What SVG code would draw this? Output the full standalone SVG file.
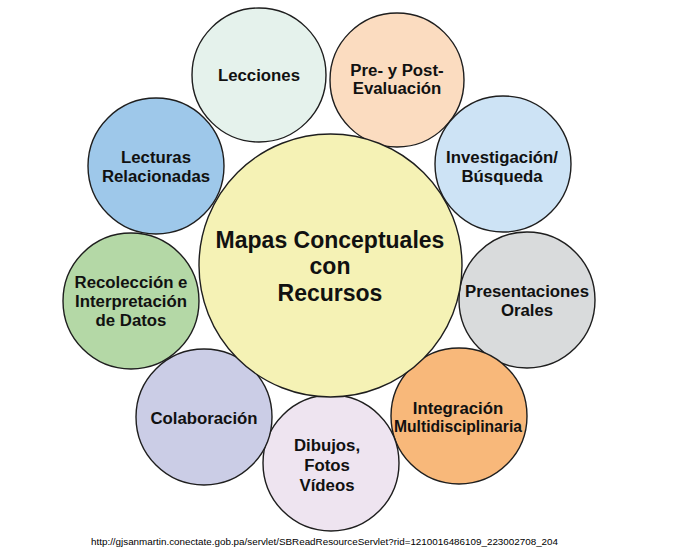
<svg xmlns="http://www.w3.org/2000/svg" width="676" height="554" viewBox="0 0 676 554">
<style>
circle{stroke:#1e1e1e;stroke-width:1.4}
text{font-family:"Liberation Sans",Arial,sans-serif;font-weight:bold;font-size:16.8px;fill:#111;text-anchor:middle}
.big{font-size:23px}
.url{font-weight:normal;font-size:9.5px;text-anchor:start;fill:#000}
</style>
<rect width="676" height="554" fill="#fff"/>
<g id="lecciones"><circle cx="259" cy="75" r="67" fill="#e5f2ec"/><text x="259" y="81">Lecciones</text></g>
<g id="evaluacion"><circle cx="397" cy="80" r="67" fill="#fbdcc0"/><text x="397" y="76">Pre- y Post-</text><text x="397" y="94">Evaluación</text></g>
<g id="investigacion"><circle cx="503" cy="164" r="68" fill="#cde3f5"/><text x="502" y="163">Investigación/</text><text x="502" y="182">Búsqueda</text></g>
<g id="presentaciones"><circle cx="527" cy="300" r="68" fill="#d9dbdc"/><text x="527" y="297">Presentaciones</text><text x="527" y="316">Orales</text></g>
<g id="integracion"><circle cx="459" cy="416" r="68" fill="#f8b87a"/><text x="458" y="414">Integración</text><text x="458" y="432" textLength="128" lengthAdjust="spacingAndGlyphs">Multidisciplinaria</text></g>
<g id="dibujos"><circle cx="331" cy="463" r="68" fill="#eee4f0"/><text x="327" y="451">Dibujos,</text><text x="327" y="471">Fotos</text><text x="327" y="491">Vídeos</text></g>
<g id="colaboracion"><circle cx="204" cy="417" r="68" fill="#cbcde6"/><text x="204" y="424">Colaboración</text></g>
<g id="recoleccion"><circle cx="131" cy="301" r="68" fill="#b4d8a6"/><text x="131" y="288">Recolección e</text><text x="131" y="307">Interpretación</text><text x="131" y="326">de Datos</text></g>
<g id="lecturas"><circle cx="156" cy="166" r="68" fill="#9ec8ea"/><text x="156" y="163">Lecturas</text><text x="156" y="182">Relacionadas</text></g>
<g id="centro"><circle cx="330.5" cy="265.5" r="131.5" fill="#f5f2b5"/><text class="big" x="330" y="248">Mapas Conceptuales</text><text class="big" x="330" y="274">con</text><text class="big" x="330" y="301">Recursos</text></g>
<g id="connectors"/>
<text class="url" x="91" y="545" textLength="467" lengthAdjust="spacingAndGlyphs">http://gjsanmartin.conectate.gob.pa/servlet/SBReadResourceServlet?rid=1210016486109_223002708_204</text>
</svg>
